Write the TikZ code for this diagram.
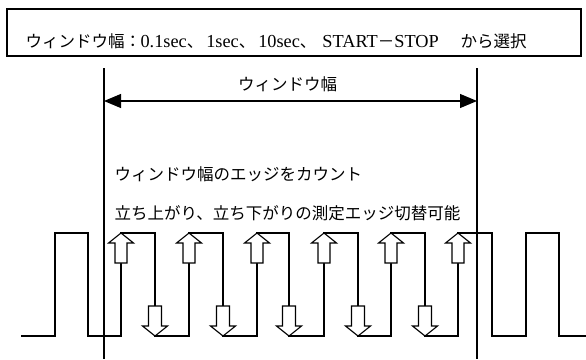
\documentclass[tikz,border=0pt]{standalone}
\usepackage{fontspec}
\usetikzlibrary{arrows.meta}
\newfontfamily\jp{Noto Sans CJK JP}
\newfontfamily\lat{Liberation Serif}
\newcommand\jpmark[1]{{\jp\fontsize{16.5}{20}\selectfont #1}}
\begin{document}
\begin{tikzpicture}[x=1pt,y=-1pt, line width=1.1pt,
  jtext/.style={inner sep=0pt, font=\jp\fontsize{16.5}{20}\selectfont},
  ltext/.style={inner sep=0pt, font=\lat\fontsize{18.3}{20}\selectfont},
  blockarrow/.style={draw, fill=white, line width=1.1pt, line join=miter},
  uparr/.pic={\draw[blockarrow] (0,0) -- (12.5,10) -- (6,10) -- (6,30) -- (-6,30) -- (-6,10) -- (-12.5,10) -- cycle;},
  dnarr/.pic={\draw[blockarrow] (0,0) -- (12.5,-10) -- (6.5,-10) -- (6.5,-30) -- (-6.5,-30) -- (-6.5,-10) -- (-12.5,-10) -- cycle;},
  dim/.style={{Triangle[length=17pt,width=14pt]}-{Triangle[length=17pt,width=14pt]}}]
\useasboundingbox (0,0) rectangle (586,359);
% selection box
\node[draw, minimum width=574pt, minimum height=47pt, inner sep=0pt] (selbox) at (294,32.5) {};
\node[jtext, anchor=base west] (s1) at (25,47) {ウィンドウ幅：};
\node[ltext, anchor=base west] (s2) at (140,47) {0.1sec\jpmark{、}\hspace{3pt}1sec\jpmark{、}\hspace{3pt}10sec\jpmark{、}\hspace{6pt}START\jpmark{－}STOP};
\node[jtext, anchor=base west] (s6) at (460,47) {から選択};
% window limits
\coordinate (lt) at (104,68); \coordinate (lb) at (104,359);
\coordinate (rt) at (477,68); \coordinate (rb) at (477,359);
\draw (lt) -- (lb);
\draw (rt) -- (rb);
\coordinate (wl) at (104,101); \coordinate (wr) at (477,101);
\draw[dim] (wl) -- (wr);
\node[jtext] (wlabel) at (287.5,84) {ウィンドウ幅};
% texts
\node[jtext, anchor=west] (t1) at (114,174) {ウィンドウ幅のエッジをカウント};
\node[jtext, anchor=west] (t2) at (114,213) {立ち上がり、立ち下がりの測定エッジ切替可能};
% waveform
\draw[line join=miter] (21,336) -|(55,233) -|(88,336) -|(121,233) -|(155,336) -|(189,233) -|(223,336)
  -|(257,233) -|(289,336) -|(324,233) -|(358,336) -|(391,233) -|(425,336) -|(458,233)
  -|(492,336) -|(526,233) -|(559,336) -- (586,336);
% edge markers
\foreach \x in {121,189,257,324,391,458} \pic at (\x,233) {uparr};
\foreach \x in {155,223,289,358,425} \pic at (\x,336) {dnarr};
\end{tikzpicture}
\end{document}
